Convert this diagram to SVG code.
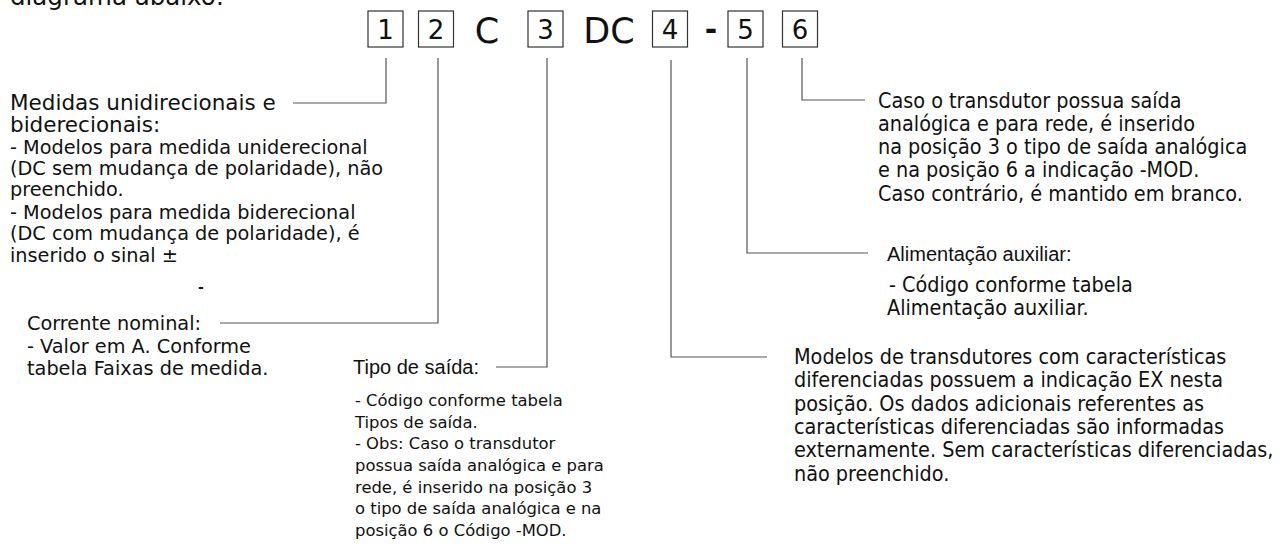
<svg xmlns="http://www.w3.org/2000/svg" width="1285" height="553" viewBox="0 0 1285 553">
<style>
.bg{fill:#ffffff}
.box{fill:#ffffff;stroke:#333333;stroke-width:1.2}
.dig{font-family:"DejaVu Sans",Verdana,sans-serif;font-size:26px;fill:#111;text-anchor:middle}
.big{font-family:"DejaVu Sans",Verdana,sans-serif;font-size:35px;fill:#111;text-anchor:middle}
.dash{font-family:"DejaVu Sans",Verdana,sans-serif;font-size:30px;font-weight:bold;fill:#111;text-anchor:middle}
.sdash{font-family:"DejaVu Sans",Verdana,sans-serif;font-size:14px;font-weight:bold;fill:#111}
.top{font-family:"DejaVu Sans",Verdana,sans-serif;font-size:24.5px;fill:#111}
.vl{font-family:"DejaVu Sans",Verdana,sans-serif;font-size:21.5px;fill:#111}
.v{font-family:"DejaVu Sans",Verdana,sans-serif;font-size:19.3px;fill:#111}
.vs{font-family:"DejaVu Sans",Verdana,sans-serif;font-size:16.4px;fill:#111}
.t{font-family:"DejaVu Sans",Tahoma,sans-serif;font-stretch:condensed;font-size:21.4px;fill:#111}
.a{font-family:"Liberation Sans",Arial,sans-serif;font-size:20px;fill:#111}
.conn{fill:none;stroke:#555555;stroke-width:1.2}
</style>
<rect class="bg" x="0" y="0" width="1285" height="553"/>
<text class="top" x="10" y="5">diagrama abaixo:</text>
<g id="code">
<g id="b1"><rect class="box" x="368" y="11" width="35" height="36"/><text class="dig" x="385.5" y="39">1</text></g>
<g id="b2"><rect class="box" x="418.5" y="11" width="35" height="36"/><text class="dig" x="436" y="39">2</text></g>
<text class="big" x="487" y="43">C</text>
<g id="b3"><rect class="box" x="528" y="11" width="35" height="36"/><text class="dig" x="545.5" y="39">3</text></g>
<text class="big" x="609" y="43">DC</text>
<g id="b4"><rect class="box" x="652.5" y="11" width="35" height="36"/><text class="dig" x="670" y="39">4</text></g>
<text class="dash" x="711" y="40">-</text>
<g id="b5"><rect class="box" x="728" y="11" width="35" height="36"/><text class="dig" x="745.5" y="39">5</text></g>
<g id="b6"><rect class="box" x="782.5" y="11" width="35" height="36"/><text class="dig" x="800" y="39">6</text></g>
</g>
<g id="connectors">
<polyline class="conn" points="386,58 386,103 293,103"/>
<polyline class="conn" points="438,58 438,323 220,323"/>
<polyline class="conn" points="547,58 547,367 496,367"/>
<polyline class="conn" points="671,60 671,357 767,357"/>
<polyline class="conn" points="747,58 747,253 868,253"/>
<polyline class="conn" points="802,58 802,100 865,100"/>
</g>
<g id="n1">
<text class="vl" x="10" y="110">Medidas unidirecionais e</text>
<text class="vl" x="10" y="132">biderecionais:</text>
<text class="v" x="10" y="154">- Modelos para medida uniderecional</text>
<text class="v" x="10" y="175">(DC sem mudança de polaridade), não</text>
<text class="v" x="10" y="196">preenchido.</text>
<text class="v" x="10" y="219">- Modelos para medida biderecional</text>
<text class="v" x="10" y="240">(DC com mudança de polaridade), é</text>
<text class="v" x="10" y="262">inserido o sinal ±</text>
<text class="sdash" x="198" y="292">-</text>
</g>
<g id="n2">
<text class="v" x="27" y="330">Corrente nominal:</text>
<text class="v" x="27" y="353">- Valor em A. Conforme</text>
<text class="v" x="27" y="375">tabela Faixas de medida.</text>
</g>
<g id="n3">
<text class="a" x="353" y="374">Tipo de saída:</text>
<text class="vs" x="355" y="406">- Código conforme tabela</text>
<text class="vs" x="355" y="428">Tipos de saída.</text>
<text class="vs" x="355" y="449">- Obs: Caso o transdutor</text>
<text class="vs" x="355" y="471">possua saída analógica e para</text>
<text class="vs" x="355" y="493">rede, é inserido na posição 3</text>
<text class="vs" x="355" y="514">o tipo de saída analógica e na</text>
<text class="vs" x="355" y="536">posição 6 o Código -MOD.</text>
</g>
<g id="n4">
<text class="t" x="794" y="364">Modelos de transdutores com características</text>
<text class="t" x="794" y="387">diferenciadas possuem a indicação EX nesta</text>
<text class="t" x="794" y="411">posição. Os dados adicionais referentes as</text>
<text class="t" x="794" y="434">características diferenciadas são informadas</text>
<text class="t" x="794" y="457">externamente. Sem características diferenciadas,</text>
<text class="t" x="794" y="481">não preenchido.</text>
</g>
<g id="n5">
<text class="a" x="887" y="261">Alimentação auxiliar:</text>
<text class="t" x="889" y="292">- Código conforme tabela</text>
<text class="t" x="887" y="315">Alimentação auxiliar.</text>
</g>
<g id="n6">
<text class="t" x="878" y="108">Caso o transdutor possua saída</text>
<text class="t" x="878" y="131">analógica e para rede, é inserido</text>
<text class="t" x="878" y="154">na posição 3 o tipo de saída analógica</text>
<text class="t" x="878" y="177">e na posição 6 a indicação -MOD.</text>
<text class="t" x="878" y="201">Caso contrário, é mantido em branco.</text>
</g>
</svg>
